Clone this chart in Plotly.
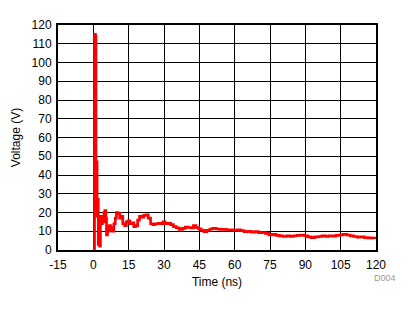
import plotly.graph_objects as go

time_ns = [0.3, 0.5, 0.9, 1.1, 1.4, 1.6, 1.9, 2.1, 2.4, 2.7, 3.0, 3.4, 3.8, 4.1, 4.5, 4.9,
           5.3, 5.6, 6.0, 6.4, 6.8, 7.3, 7.8, 8.2, 8.7, 9.3, 9.8, 10.5, 11.2, 11.8, 12.5,
           13.3, 14.0, 14.8, 15.5, 16.3, 17.2, 18.0, 18.8, 19.6, 20.5, 21.4, 22.4, 23.3,
           24.3, 25.3, 26.3, 27.5, 28.7, 29.6, 30.5, 31.6, 32.8, 34.0, 35.2, 36.5, 37.8,
           39.0, 40.2, 41.4, 42.5, 43.6, 44.7, 45.8, 47.0, 48.2, 49.5, 50.8, 52.2, 53.6,
           55.0, 56.5, 58.0, 59.5, 61.0, 62.5, 64.0, 65.5, 67.0, 68.5, 70.0, 71.5, 73.0,
           74.5, 76.0, 77.5, 79.0, 80.5, 82.0, 83.5, 85.0, 86.5, 88.0, 89.5, 91.0, 92.5,
           94.0, 95.5, 97.0, 98.5, 100.0, 101.5, 103.0, 104.5, 106.0, 107.5, 109.0, 110.5,
           112.0, 113.5, 115.0, 116.5, 118.0, 119.5]
voltage_v = [0, 115, 114, 20, 47, 18, 27, 3, 15, 2, 18, 14, 18, 15, 20, 21,
             17, 8, 12, 10, 13, 11, 12, 10, 14, 17, 20, 19.5, 17, 18, 14,
             13, 15, 15.5, 14, 14.5, 12.5, 13, 16, 18, 17.5, 18.5, 18.8, 17,
             14, 13.5, 14, 14.2, 14, 15, 14, 14.2, 13.5, 12.5, 11.8, 11, 11.5,
             12.2, 12, 11.8, 13, 12, 11.3, 10.5, 9.8, 10.5, 11.2, 11.6, 11.2, 11,
             11, 10.8, 10.7, 10.5, 10.8, 10.3, 9.8, 10, 9.5, 9.8, 9.2, 9.3, 8.9,
             8.0, 8.3, 7.8, 7.5, 7.2, 7.5, 7.3, 7.6, 7.8, 8.0, 7.6, 7.0, 6.6,
             7.0, 7.2, 7.5, 7.3, 7.6, 7.4, 7.8, 8.0, 8.4, 8.0, 7.5, 7.2,
             6.9, 7.0, 6.6, 6.5, 6.4, 5.9]

x_ticks = [-15, 0, 15, 30, 45, 60, 75, 90, 105, 120]
y_ticks = list(range(0, 121, 10))

font = dict(family="Liberation Sans, Arial, sans-serif", size=12, color="black")

fig = go.Figure()
fig.add_trace(go.Scatter(x=time_ns, y=voltage_v, mode="lines", line_shape="hv",
                         line=dict(color="#ff0000", width=2.7), showlegend=False))

fig.update_layout(
    width=415, height=312,
    margin=dict(l=58, r=39, t=25, b=62),
    paper_bgcolor="white", plot_bgcolor="white",
    font=font,
)
fig.update_xaxes(range=[-15, 120], tickvals=x_ticks, ticktext=[str(v) for v in x_ticks],
                 showgrid=True, gridcolor="black", gridwidth=1,
                 showline=True, linecolor="black", linewidth=2, mirror=True,
                 ticks="", zeroline=False, tickfont=font, ticklabelstandoff=3,
                 title=dict(text="Time (ns)", font=font, standoff=6))
fig.update_yaxes(range=[0, 120], tickvals=y_ticks, ticktext=[str(v) for v in y_ticks],
                 showgrid=True, gridcolor="black", gridwidth=1,
                 showline=True, linecolor="black", linewidth=2, mirror=True,
                 ticks="", zeroline=False, tickfont=font, ticklabelstandoff=2,
                 title=dict(text="Voltage (V)", font=font, standoff=8))
fig.add_annotation(text="D004", xref="paper", yref="paper", x=1.07, y=-0.095,
                   xanchor="right", yanchor="top", showarrow=False,
                   font=dict(family="Liberation Sans, Arial, sans-serif", size=9, color="#999999"))

fig.write_html("out.html")
